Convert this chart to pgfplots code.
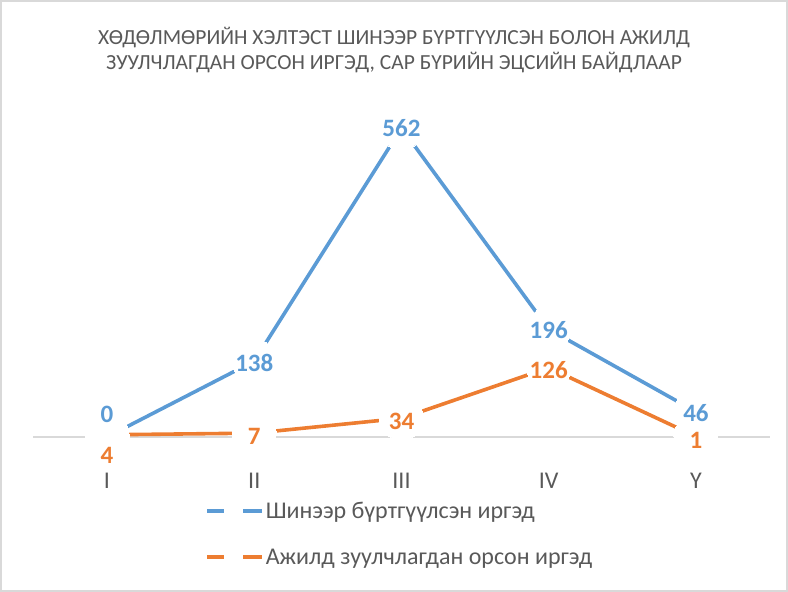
\documentclass[border=0pt]{standalone}
\usepackage{pgfplots}
\pgfplotsset{compat=1.18}
\usepackage{pgfplotstable}
\usepackage{fontspec}
\setmainfont{Carlito}
\definecolor{cblue}{HTML}{5B9BD5}
\definecolor{corange}{HTML}{ED7D31}
\definecolor{ctext}{HTML}{595959}
\definecolor{cgrid}{HTML}{D9D9D9}

\pgfplotstableread{
x y dy
0 0 23
1 138 -2
2 562 0
3 196 -1
4 46 -1
}\bluedata
\pgfplotstableread{
x y dy
0 4 -21
1 7 -3
2 34 -3
3 126 -2
4 1 -4
}\orangedata

\begin{document}
\begin{tikzpicture}[x=1pt,y=1pt]
\useasboundingbox (0,0) rectangle (788,592);
\draw[cgrid, line width=1.2pt] (1,1) rectangle (787,591);
\node[text=ctext, align=center, font=\fontsize{21.5}{25}\selectfont] at (394,542) {ХӨДӨЛМӨРИЙН ХЭЛТЭСТ ШИНЭЭР БҮРТГҮҮЛСЭН БОЛОН АЖИЛД\\ЗУУЛЧЛАГДАН ОРСОН ИРГЭД, САР БҮРИЙН ЭЦСИЙН БАЙДЛААР};
\begin{axis}[
  at={(33.4pt,155pt)}, anchor=south west,
  scale only axis, width=736.2pt, height=329.9pt,
  xmin=-0.5, xmax=4.5, ymin=0, ymax=600,
  axis line style={draw=none}, tick style={draw=none},
  xtick={0,1,2,3,4}, xticklabels={I,II,III,IV,Y},
  ytick=\empty,
  /pgf/number format/assume math mode=true,
  xticklabel style={font=\fontsize{24}{28}\selectfont, text=ctext, yshift=-33pt},
  clip=false,
  legend style={at={(axis description cs:0.2331,-0.19)}, anchor=north west,
    draw=none, fill=none, font=\fontsize{24}{28}\selectfont, text=ctext,
    row sep=25pt, inner sep=0pt},
  legend cell align=left,
  legend image code/.code={\draw[#1, mark=none] (0pt,0pt) -- (17pt,0pt) (36pt,0pt) -- (55pt,0pt);},
  lbl/.style={only marks, mark=none, forget plot,
    nodes near coords={\pgfmathprintnumber{\pgfplotspointmeta}},
    visualization depends on={\thisrow{dy}\as\dy},
    every node near coord/.append style={anchor=center, yshift=\dy pt, font=\fontsize{25}{30}\selectfont\bfseries, text=#1}},
  ser/.style={#1, line width=3.6pt, mark=*, mark size=22pt, mark options={fill=white, draw=white, line width=0pt}},
]
\draw[cgrid, line width=1.5pt] (rel axis cs:0,0) -- (rel axis cs:1,0);
\addplot[ser=cblue] table[x=x,y=y]{\bluedata};
\addlegendentry{Шинээр бүртгүүлсэн иргэд}
\addplot[ser=corange] table[x=x,y=y]{\orangedata};
\addlegendentry{Ажилд зуулчлагдан орсон иргэд}
\addplot[lbl=cblue] table[x=x,y=y]{\bluedata};
\addplot[lbl=corange] table[x=x,y=y]{\orangedata};
\end{axis}
\end{tikzpicture}
\end{document}
